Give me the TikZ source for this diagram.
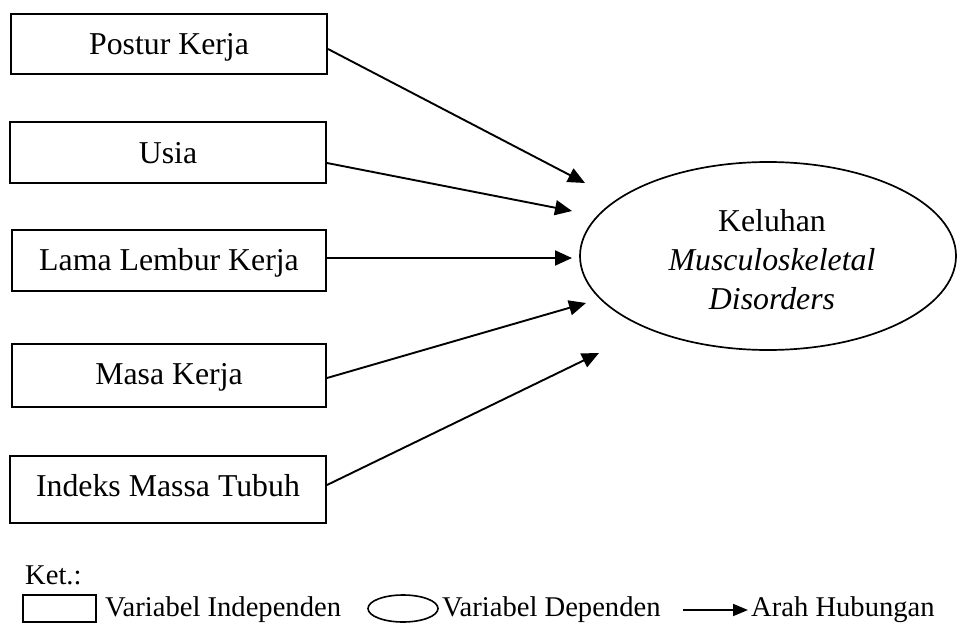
\documentclass[tikz,border=0pt]{standalone}
\usepackage{fontspec}
\setmainfont{Liberation Serif}
\usetikzlibrary{arrows.meta,shapes.geometric}
\begin{document}
\begin{tikzpicture}[x=1pt,y=-1pt,
  indep/.style={draw,line width=2pt,minimum width=316pt,minimum height=61pt,inner sep=0pt,text depth=0pt,text height=20pt,font=\fontsize{31.8}{38}\selectfont},
  dep/.style={draw,ellipse,line width=1.7pt,minimum width=376pt,minimum height=188pt,inner sep=0pt},
  rel/.style={line width=1.9pt,-{Triangle[length=17pt,width=15pt]}},
  legtext/.style={anchor=base west,inner sep=0pt,font=\fontsize{28.6}{34}\selectfont}]
\useasboundingbox (0,0) rectangle (958,623);
% independent variables
\node[indep,minimum height=60pt,text height=22pt] (b1) at (169,44) {Postur Kerja};
\node[indep,text height=21pt] (b2) at (168,152.5) {Usia};
\node[indep,minimum width=314pt,text height=19pt] (b3) at (169,260.5) {Lama Lembur Kerja};
\node[indep,minimum width=314pt,minimum height=63pt,text height=17pt] (b4) at (169,375.5) {Masa Kerja};
\node[indep,minimum height=67pt,text height=14pt] (b5) at (168,489.5) {Indeks Massa Tubuh};
% dependent variable
\node[dep] (k) at (768,256) {};
\node[align=center,inner sep=0pt,font=\fontsize{31.8}{39}\selectfont] (kt) at (772,260) {Keluhan\\\textit{Musculoskeletal}\\\textit{Disorders}};
% arrow tips
\coordinate (t1) at (585,183);
\coordinate (t2) at (572,211);
\coordinate (t3) at (572,258);
\coordinate (t4) at (586,303);
\coordinate (t5) at (599,353);
\draw[rel] ([yshift=-5pt]b1.east) -- (t1);
\draw[rel] ([yshift=-10.5pt]b2.east) -- (t2);
\draw[rel] ([yshift=2.5pt]b3.east) -- (t3);
\draw[rel] ([yshift=-2.5pt]b4.east) -- (t4);
\draw[rel] ([yshift=4.5pt]b5.east) -- (t5);
% legend
\node[legtext] (ket) at (25,584) {Ket.:};
\node[draw,line width=1.6pt,minimum width=73pt,minimum height=27pt,inner sep=0pt] (lb) at (59.5,608.5) {};
\node[legtext] (lbt) at (105,616.5) {Variabel Independen};
\node[draw,ellipse,line width=1.6pt,minimum width=70pt,minimum height=27pt,inner sep=0pt] (le) at (403,608.5) {};
\node[legtext] (let) at (442,616.5) {Variabel Dependen};
\coordinate (la) at (683,610);
\coordinate (lz) at (748,610);
\draw[line width=1.8pt,-{Triangle[length=15pt,width=12pt]}] (la) -- (lz);
\node[legtext] (lat) at (751,616.5) {Arah Hubungan};
\end{tikzpicture}
\end{document}
